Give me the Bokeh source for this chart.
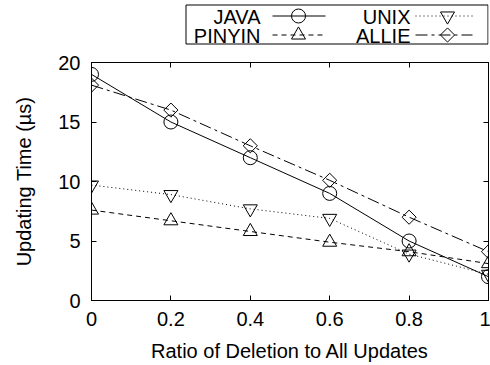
from bokeh.plotting import figure
from bokeh.models import Range1d, FixedTicker, LinearAxis
from bokeh.layouts import column
from bokeh.embed import file_html
from bokeh.resources import INLINE
from bokeh.core.properties import value

# ---- data ----
ratios = [0, 0.2, 0.4, 0.6, 0.8, 1]
java = [19.0, 15.0, 12.0, 9.0, 5.0, 2.0]
pinyin = [7.6, 6.7, 5.8, 4.9, 4.1, 3.1]
unix = [9.7, 8.9, 7.7, 6.9, 3.9, 2.2]
allie = [18.1, 16.0, 13.0, 10.1, 7.0, 4.1]
x_tick_labels = ["0", "0.2", "0.4", "0.6", "0.8", "1"]
y_ticks = [0, 5, 10, 15, 20]
series_names = ["JAVA", "PINYIN", "UNIX", "ALLIE"]
series_values = [java, pinyin, unix, allie]

FONT = "Liberation Sans"
FS = "20px"

styles = {
    "JAVA":   dict(dash="solid",     marker="circle",            size=14, angle=0.0),
    "PINYIN": dict(dash="5 4",       marker="triangle",          size=14, angle=0.0),
    "UNIX":   dict(dash="1 3",       marker="inverted_triangle", size=14, angle=0.0),
    "ALLIE":  dict(dash="12 4 3 4",  marker="square",            size=10, angle=0.785398),
}

W = 490
BL, BR = 91, 2          # main plot left / right borders
LEG_H = 52

# ---- legend strip (gnuplot-style key: label, then sample) ----
# its frame is aligned with the main plot frame by the column layout,
# so its x range is expressed in page pixels over that frame
leg = figure(width=W, height=LEG_H, x_range=Range1d(BL, W - BR), y_range=Range1d(LEG_H, 0),
             toolbar_location=None, output_backend="svg",
             min_border_left=0, min_border_right=0, min_border_top=0, min_border_bottom=0,
             x_axis_location=None, y_axis_location=None, outline_line_color=None)
leg.title.visible = False
leg.grid.visible = False
leg.quad(left=185.5, right=487.5, top=4.5, bottom=43.5, fill_color=None, line_color="black", line_width=1)

col_text = [260, 410]
col_x0 = [272, 415]
col_x1 = [325, 472]
col_mark = [298, 447]
row_mid = [15.5, 34.5]
slots = {"JAVA": (0, 0), "UNIX": (1, 0), "PINYIN": (0, 1), "ALLIE": (1, 1)}
for name in series_names:
    c, r = slots[name]
    st = styles[name]
    y = row_mid[r]
    leg.text(x=[col_text[c]], y=[y + 1], text=[name], text_font=value(FONT), text_font_size=FS,
             text_align="right", text_baseline="middle", text_color="black")
    leg.line(x=[col_x0[c], col_x1[c]], y=[y, y], line_color="black", line_width=1, line_dash=st["dash"])
    leg.scatter(x=[col_mark[c]], y=[y], marker=st["marker"], size=st["size"], angle=st["angle"],
                fill_color=None, line_color="black", line_width=1)

# ---- main plot ----
p = figure(width=W, height=365 - LEG_H, x_range=Range1d(0, 1), y_range=Range1d(0, 20),
           toolbar_location=None, output_backend="svg",
           min_border_left=BL, min_border_right=BR, min_border_top=10, min_border_bottom=65)
p.title.visible = False
p.grid.visible = False
p.outline_line_color = "black"
p.outline_line_width = 1

for name, vals in zip(series_names, series_values):
    st = styles[name]
    p.line(ratios, vals, line_color="black", line_width=1, line_dash=st["dash"])
    p.scatter(ratios, vals, marker=st["marker"], size=st["size"], angle=st["angle"],
              fill_color=None, line_color="black", line_width=1)

def style_axis(ax):
    ax.major_tick_in = 5
    ax.major_tick_out = 0
    ax.minor_tick_in = 0
    ax.minor_tick_out = 0
    ax.axis_line_color = "black"
    ax.major_tick_line_color = "black"
    ax.major_label_text_font = FONT
    ax.major_label_text_color = "black"
    ax.major_label_text_font_size = FS
    ax.axis_label_text_font = FONT
    ax.axis_label_text_font_size = FS
    ax.axis_label_text_font_style = "normal"
    ax.axis_label_text_color = "black"

overrides = {r: l for r, l in zip(ratios, x_tick_labels)}

p.xaxis.ticker = FixedTicker(ticks=ratios)
p.xaxis.major_label_overrides = overrides
p.xaxis.axis_label = "Ratio of Deletion to All Updates"
p.yaxis.ticker = FixedTicker(ticks=y_ticks)
p.yaxis.axis_label = "Updating Time (µs)"
style_axis(p.xaxis[0])
style_axis(p.yaxis[0])
p.xaxis.major_label_standoff = 11
p.xaxis.axis_label_standoff = 11
p.yaxis.major_label_standoff = 11
p.yaxis.axis_label_standoff = 20

# mirrored ticks (no labels)
top = LinearAxis(ticker=FixedTicker(ticks=ratios), major_label_overrides={r: "" for r in ratios})
right = LinearAxis(ticker=FixedTicker(ticks=y_ticks), major_label_overrides={t: "" for t in y_ticks})
for ax in (top, right):
    style_axis(ax)
    ax.major_label_standoff = 0
p.add_layout(top, "above")
p.add_layout(right, "right")

layout = column(leg, p)
open("out.html", "w").write(file_html(layout, INLINE))
